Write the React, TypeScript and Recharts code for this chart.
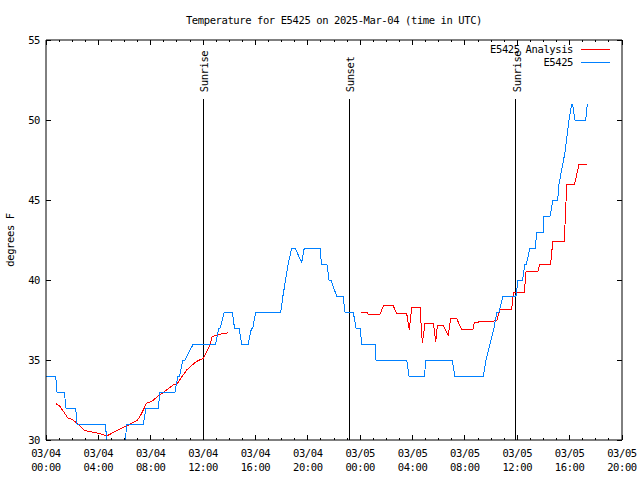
import React from 'react';
import {
  ComposedChart, Line, XAxis, YAxis, ReferenceLine, Legend,
} from 'recharts';

// hours since 03/04 00:00 UTC
const BLUE_HOURS = [
  0, 0.74, 0.84, 1.4, 1.53, 2.27, 2.37, 4.53, 4.76, 5.98, 6.16, 7.43, 7.64, 8.58, 8.71, 9.85,
  10.08, 10.2, 10.45, 10.62, 11.25, 12.96, 13.2, 13.3, 13.62, 14.23, 14.4, 14.74, 14.95, 15.45,
  15.7, 15.8, 16.02, 17.93, 18.1, 18.3, 18.5, 18.77, 19.02, 19.53, 19.73, 20.93, 21.04, 21.46,
  21.62, 21.77, 22.2, 22.69, 22.84, 23.47, 23.68, 23.99, 24.12, 25.13, 25.21, 27.55, 27.73, 28.9,
  29.03, 31.04, 31.22, 33.41, 33.61, 33.92, 34.22, 34.45, 34.6, 34.91, 35.9, 36.06, 36.4, 36.59,
  36.7, 36.97, 37.36, 37.51, 37.97, 38.04, 38.5, 38.73, 39.09, 39.19, 39.42, 39.65, 39.8, 39.95,
  40.15, 40.22, 40.41, 41.23, 41.35,
];
const BLUE_TEMPS = [
  34, 34, 33, 33, 32, 32, 31, 31, 29, 29, 31, 31, 32, 32, 33, 33,
  34, 34, 35, 35, 36, 36, 37, 37, 38, 38, 37, 37, 36, 36,
  37, 37, 38, 38, 39, 40, 41, 42, 42, 41.1, 42, 42, 41, 41,
  40, 40, 39, 39, 38, 38, 37, 37, 36, 36, 35, 35, 34, 34,
  35, 35, 34, 34, 35, 36, 37, 38, 38, 39, 39, 40, 40, 41,
  41, 42, 42, 43, 43, 44, 44, 45, 45, 46, 47, 48, 49, 50,
  51, 51, 50, 50, 51,
];

const RED_HOURS = [
  0.74, 1.07, 1.68, 1.99, 2.44, 2.98, 3.51, 4.0, 4.64, 5.4, 6.16, 6.93, 7.2, 7.69, 8.06, 8.58,
  9.72, 10.0, 10.75, 11.47, 12.0, 12.45, 12.7, 13.16, 13.93,
  18,
  24.06, 24.52, 24.62, 25.51, 25.77, 26.53, 26.79, 27.55, 27.75, 27.94, 28.57, 28.75, 28.95, 29.59,
  29.77, 29.89, 30.35, 30.73, 30.92, 31.37, 31.76, 32.6, 32.72, 33.6, 34.43, 34.68, 35.57, 35.7,
  36.54, 36.67, 37.56, 37.74, 38.55, 38.71, 39.59, 39.78, 40.36, 40.49, 40.6, 40.72, 41.35,
];
const RED_TEMPS = [
  32.29, 32.1, 31.36, 31.3, 31.0, 30.58, 30.5, 30.42, 30.25, 30.58, 30.88, 31.2, 31.5, 32.31, 32.4, 32.75,
  33.44, 33.5, 34.38, 34.9, 35.1, 35.8, 36.46, 36.6, 36.7,
  null,
  38.0, 38.0, 37.86, 37.86, 38.38, 38.38, 37.92, 37.92, 36.88, 38.29, 38.29, 36.04, 37.29, 37.29,
  36.14, 37.13, 37.13, 36.56, 37.6, 37.6, 36.88, 36.88, 37.36, 37.4, 37.45, 38.17, 38.17, 39.23,
  39.23, 40.52, 40.52, 41.0, 41.0, 42.39, 42.39, 45.98, 45.98, 46.4, 46.8, 47.25, 47.25,
];

const SUN_HOURS = [12.02, 23.15, 35.9];
const SUN_LABELS = ['Sunrise', 'Sunset', 'Sunrise'];

const MAJOR_HOURS = [0, 4, 8, 12, 16, 20, 24, 28, 32, 36, 40, 44];
const X_DATES = ['03/04', '03/04', '03/04', '03/04', '03/04', '03/04', '03/05', '03/05', '03/05', '03/05', '03/05', '03/05'];
const X_TIMES = ['00:00', '04:00', '08:00', '12:00', '16:00', '20:00', '00:00', '04:00', '08:00', '12:00', '16:00', '20:00'];
const Y_TICKS = [30, 35, 40, 45, 50, 55];

const HOUR_TICKS = Array.from({ length: 45 }, (_, i) => i);

const blueData = BLUE_HOURS.map((h, i) => ({ h, t: BLUE_TEMPS[i] }));
const redData = RED_HOURS.map((h, i) => ({ h, t: RED_TEMPS[i] }));

const FONT = 'DejaVu Sans Mono';
const TXT = { fontFamily: FONT, fontSize: 10.5, letterSpacing: -0.4, fill: '#000' };
const BLUE = '#0080ff';
const RED = '#ff0000';

const BottomTick = ({ x, y, payload }: any) => {
  const i = MAJOR_HOURS.indexOf(payload.value);
  const major = i >= 0;
  return (
    <g>
      <line x1={x} x2={x} y1={y} y2={y - (major ? 5 : 2)} stroke="#000" shapeRendering="crispEdges" />
      {major && (
        <text textAnchor="middle" style={TXT}>
          <tspan x={x} y={y + 17}>{X_DATES[i]}</tspan>
          <tspan x={x} y={y + 31}>{X_TIMES[i]}</tspan>
        </text>
      )}
    </g>
  );
};

const TopTick = ({ x, y, payload }: any) => {
  const major = MAJOR_HOURS.includes(payload.value);
  return <line x1={x} x2={x} y1={y} y2={y + (major ? 5 : 2)} stroke="#000" shapeRendering="crispEdges" />;
};

const LeftTick = ({ x, y, payload }: any) => (
  <g>
    <line x1={x} x2={x + 5} y1={y} y2={y} stroke="#000" shapeRendering="crispEdges" />
    <text x={x - 6} y={y} dy="0.35em" textAnchor="end" style={TXT}>{payload.value}</text>
  </g>
);

const RightTick = ({ x, y }: any) => (
  <line x1={x} x2={x - 5} y1={y} y2={y} stroke="#000" shapeRendering="crispEdges" />
);

const SunLabel = ({ viewBox, text }: any) => {
  const x = viewBox.x;
  const y = viewBox.y - 7;
  return (
    <text x={x + 1} y={y} transform={`rotate(-90 ${x + 1} ${y})`} dominantBaseline="central" style={TXT}>
      {text}
    </text>
  );
};

const renderLegend = () => (
  <svg width={150} height={30}>
    <text x={103} y={9} dy="0.35em" textAnchor="end" style={TXT}>E5425 Analysis</text>
    <line x1={111} x2={140} y1={9} y2={9} stroke={RED} shapeRendering="crispEdges" />
    <text x={103} y={22} dy="0.35em" textAnchor="end" style={TXT}>E5425</text>
    <line x1={111} x2={140} y1={22} y2={22} stroke={BLUE} shapeRendering="crispEdges" />
  </svg>
);

export default function App() {
  return (
    <div style={{ position: 'absolute', left: 0, top: 0, width: 640, height: 480, background: '#fff' }}>
      <svg width={640} height={30} style={{ position: 'absolute', left: 0, top: 0 }}>
        <text x={334} y={24} textAnchor="middle" style={TXT}>
          Temperature for E5425 on 2025-Mar-04 (time in UTC)
        </text>
      </svg>
      <ComposedChart width={640} height={480} margin={{ top: 39, right: 17, left: 0, bottom: 0 }}>
        <XAxis
          type="number" dataKey="h" domain={[0, 44]} ticks={HOUR_TICKS} interval={0}
          allowDataOverflow height={40} stroke="#000" tickLine={false} tickSize={0} tickMargin={0}
          tick={(p: any) => <BottomTick {...p} />}
        />
        <XAxis
          xAxisId="top" orientation="top" type="number" dataKey="h" domain={[0, 44]} ticks={HOUR_TICKS}
          interval={0} allowDataOverflow height={1} stroke="#000" tickLine={false} tickSize={0} tickMargin={0}
          tick={(p: any) => <TopTick {...p} />}
        />
        <YAxis
          type="number" domain={[30, 55]} ticks={Y_TICKS} interval={0} allowDataOverflow width={46}
          stroke="#000" tickLine={false} tickSize={0} tickMargin={0}
          tick={(p: any) => <LeftTick {...p} />}
          label={(p: any) => {
            const cx = p.viewBox.x + 10;
            const cy = p.viewBox.y + p.viewBox.height / 2;
            return (
              <text x={cx} y={cy} transform={`rotate(-90 ${cx} ${cy})`} textAnchor="middle" dominantBaseline="central" style={TXT}>
                degrees F
              </text>
            );
          }}
        />
        <YAxis
          yAxisId="right" orientation="right" type="number" domain={[30, 55]} ticks={Y_TICKS} interval={0}
          allowDataOverflow width={1} stroke="#000" tickLine={false} tickSize={0} tickMargin={0}
          tick={(p: any) => <RightTick {...p} />}
        />
        {SUN_HOURS.map((h, i) => (
          <ReferenceLine
            key={i}
            segment={[{ x: h, y: 51.3 }, { x: h, y: 30 }]}
            stroke="#000"
            shapeRendering="crispEdges"
            label={(p: any) => <SunLabel {...p} text={SUN_LABELS[i]} />}
          />
        ))}
        <Line
          data={redData} dataKey="t" type="linear" stroke={RED} strokeWidth={1} dot={false}
          activeDot={false} connectNulls={false} isAnimationActive={false} shapeRendering="crispEdges"
        />
        <Line
          data={blueData} dataKey="t" type="linear" stroke={BLUE} strokeWidth={1} dot={false}
          activeDot={false} isAnimationActive={false} shapeRendering="crispEdges"
        />
        <Legend
          layout="vertical" align="center" verticalAlign="middle" content={renderLegend}
          wrapperStyle={{ top: 40, left: 470, width: 150, height: 30 }}
        />
      </ComposedChart>
    </div>
  );
}
